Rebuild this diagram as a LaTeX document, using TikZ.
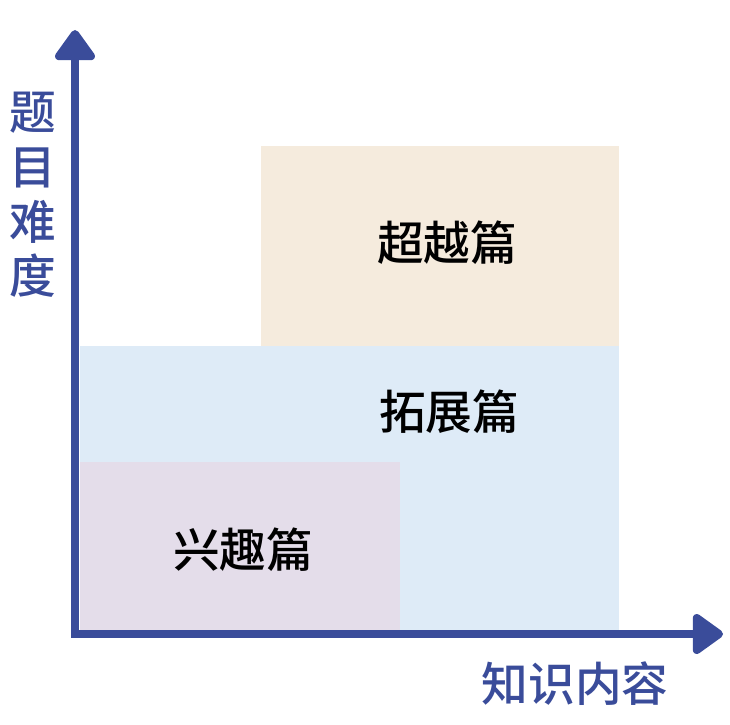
\documentclass[tikz,border=0pt]{standalone}
\usepackage{fontspec}
\setmainfont{Noto Sans CJK SC Medium}
\usepackage{xcolor}
\usetikzlibrary{arrows.meta,positioning}

\definecolor{axisblue}{HTML}{3A4C9A}
\definecolor{beyondfill}{HTML}{F5EBDD}
\definecolor{extendfill}{HTML}{DEEBF7}
\definecolor{interestfill}{HTML}{E4DDEA}

\begin{document}
\begin{tikzpicture}[
x=0.75pt,y=-0.75pt,
level/.style={
font=\fontsize{35}{35}\selectfont,
text=black,
inner sep=0pt
},
axislabel/.style={
font=\fontsize{35}{41}\selectfont,
text=axisblue,
inner sep=0pt,
align=center
},
axis/.style={
{Triangle[length=25pt,width=34pt,round]}-{Triangle[length=25pt,width=34pt,round]},
line width=6pt,
draw=axisblue
}
]
\useasboundingbox (0,0) rectangle (730,724);

% levels
\fill[beyondfill] (261,146) rectangle (619,346);
\fill[extendfill] (80,346) rectangle (619,634);
\fill[interestfill] (80,462) rectangle (400,634);

\node[level] (beyond) at (447,243) {超越篇};
\node[level] (extend) at (449,412) {拓展篇};
\node[level] (interest) at (243,550) {兴趣篇};

% axes
\coordinate (origin) at (75,634);
\coordinate (ytip) at (75,30);
\coordinate (xtip) at (723,634);
\draw[axis] (ytip) -- (origin) -- (xtip);

\node[axislabel] (ylabel) at (33,195) {题\\目\\难\\度};
\node[axislabel] (xlabel) at (575,684) {知识内容};

\end{tikzpicture}
\end{document}
